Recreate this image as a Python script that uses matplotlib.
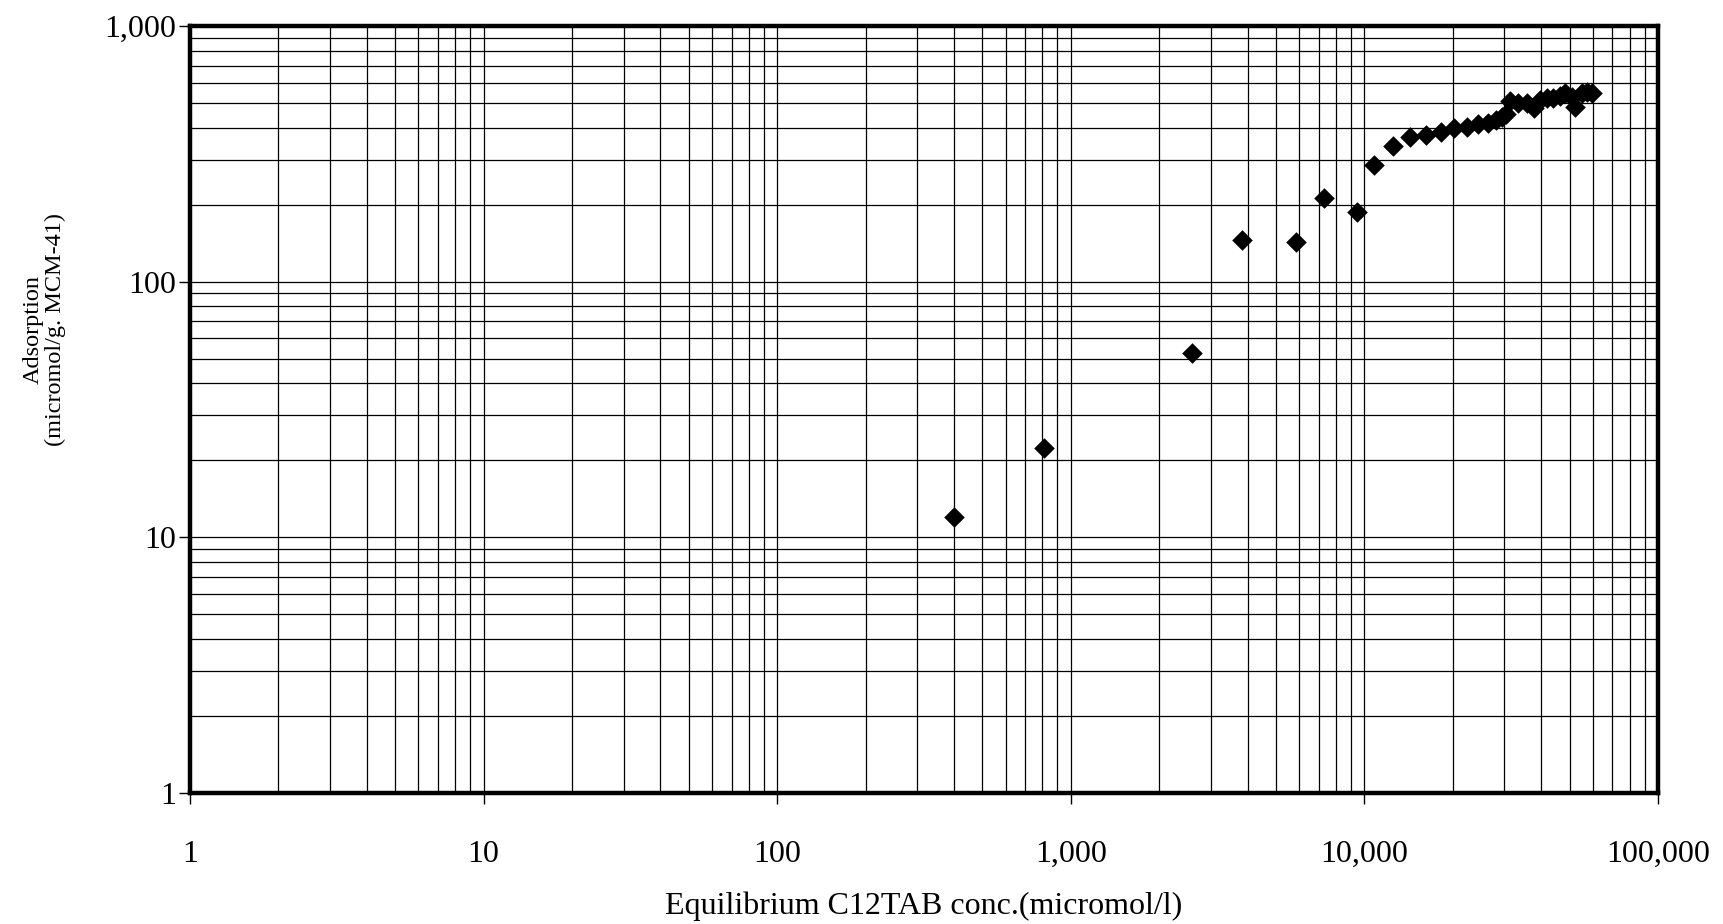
import matplotlib
matplotlib.use("Agg")
import matplotlib.pyplot as plt
from matplotlib.ticker import LogLocator, FixedLocator, FixedFormatter, NullFormatter

plt.rcParams['font.family'] = ['Liberation Serif', 'DejaVu Serif']

conc = [400, 812, 2582, 3820, 5848, 7298, 9416, 10810, 12490, 14300, 16220,
        18230, 20190, 22290, 24300, 26300, 28180, 29490, 30350, 31330, 33440,
        35700, 37830, 39630, 41750, 44010, 46350, 48190, 50800, 52140, 54950,
        57150, 59430]
adsorption = [12.0, 22.3, 52.4, 145, 143, 212, 188, 285, 339, 368, 374,
              385, 398, 401, 412, 418, 429, 442, 454, 510, 498,
              500, 476, 513, 521, 523, 532, 545, 528, 480, 545,
              552, 545]

x_ticks = [1, 10, 100, 1000, 10000, 100000]
x_tick_labels = ["1", "10", "100", "1,000", "10,000", "100,000"]
y_ticks = [1, 10, 100, 1000]
y_tick_labels = ["1", "10", "100", "1,000"]

fig = plt.figure(figsize=(17.24, 9.24), dpi=100)
ax = fig.add_axes([0.1102, 0.1418, 0.8515, 0.8301])

ax.set_xscale('log')
ax.set_yscale('log')
ax.set_xlim(1, 100000)
ax.set_ylim(1, 1000)

ax.scatter(conc, adsorption, marker='D', s=110, color='black', zorder=3, linewidths=0)

ax.xaxis.set_major_locator(FixedLocator(x_ticks))
ax.xaxis.set_major_formatter(FixedFormatter(x_tick_labels))
ax.yaxis.set_major_locator(FixedLocator(y_ticks))
ax.yaxis.set_major_formatter(FixedFormatter(y_tick_labels))
ax.xaxis.set_minor_locator(LogLocator(base=10, subs=range(2, 10), numticks=20))
ax.yaxis.set_minor_locator(LogLocator(base=10, subs=range(2, 10), numticks=20))
ax.xaxis.set_minor_formatter(NullFormatter())
ax.yaxis.set_minor_formatter(NullFormatter())

ax.grid(True, which='both', color='black', linewidth=0.9)
ax.set_axisbelow(True)

for sp in ax.spines.values():
    sp.set_linewidth(3.2)
    sp.set_color('black')

ax.tick_params(axis='both', which='major', direction='out', length=8, width=1,
               labelsize=23, color='black')
ax.tick_params(axis='x', which='major', pad=26)
ax.tick_params(axis='y', which='major', pad=2)
ax.tick_params(axis='both', which='minor', length=0)

ax.set_xlabel("Equilibrium C12TAB conc.(micromol/l)", fontsize=23, labelpad=16)
ax.set_ylabel("Adsorption\n(micromol/g. MCM-41)", fontsize=17.5,
              linespacing=1.05)
ax.yaxis.set_label_coords(-0.0845, 0.604)

fig.savefig("out.png", dpi=100)
